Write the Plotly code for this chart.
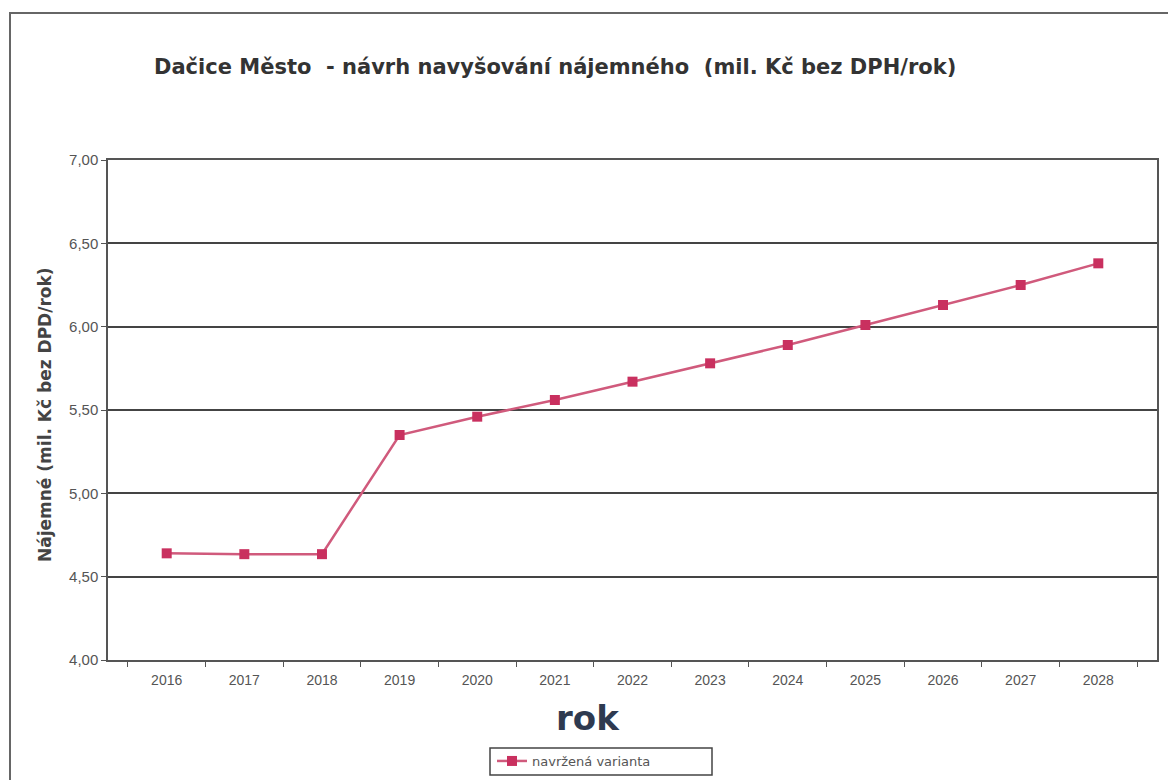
import plotly.graph_objects as go

years = ["2016", "2017", "2018", "2019", "2020", "2021", "2022", "2023", "2024", "2025", "2026", "2027", "2028"]
rent = [4.64, 4.635, 4.635, 5.35, 5.46, 5.56, 5.67, 5.78, 5.89, 6.01, 6.13, 6.25, 6.38]
series_name = "navržená varianta"
title_text = "Dačice Město  - návrh navyšování nájemného  (mil. Kč bez DPH/rok)"
y_title = "Nájemné (mil. Kč bez DPD/rok)"
x_title = "rok"

L, R, T, B = 108, 1157, 160, 660
W, H = 1168, 780
PW, PH = R - L, B - T


def px(x):
    return (x - L) / PW


def py(y):
    return (B - y) / PH


fig = go.Figure()
fig.add_trace(go.Scatter(
    x=years, y=rent, mode="lines+markers", name=series_name,
    line=dict(color="#d05a7c", width=2.5),
    marker=dict(symbol="square", size=10, color="#c9305f"),
))

fig.update_layout(
    width=W, height=H,
    margin=dict(l=L, r=W - R, t=T, b=H - B, autoexpand=False),
    paper_bgcolor="white", plot_bgcolor="white",
    separators=", ",
    showlegend=True,
    legend=dict(orientation="h", xref="container", yref="container",
                x=492 / W, y=1 - 761 / H, xanchor="left", yanchor="middle",
                borderwidth=0, bgcolor="rgba(0,0,0,0)", itemwidth=30,
                font=dict(family="DejaVu Sans", size=13, color="#555")),
    font=dict(family="Liberation Sans, Arial", color="#444"),
)
fig.update_xaxes(
    type="category", tickson="boundaries", ticks="outside", ticklen=5, tickcolor="#555",
    showline=True, linecolor="#555", linewidth=1.5, mirror=True, showgrid=False,
    ticklabelstandoff=6,
    tickfont=dict(family="Liberation Sans, Arial", size=14, color="#555"),
)
fig.update_yaxes(
    range=[4, 7], dtick=0.5, tickformat=".2f", ticks="outside", ticklen=5, tickcolor="#555",
    showline=True, linecolor="#555", linewidth=1.5, mirror=True,
    showgrid=True, gridcolor="#444", gridwidth=1.5, zeroline=False,
    tickfont=dict(family="Liberation Sans, Arial", size=15, color="#555"),
)

fig.add_annotation(text="<b>" + title_text + "</b>", xref="paper", yref="paper",
                   x=px(555), y=py(67), xanchor="center", yanchor="middle", showarrow=False,
                   font=dict(family="DejaVu Sans", size=21, color="#333"))
fig.add_annotation(text="<b>" + y_title + "</b>", xref="paper", yref="paper",
                   x=px(45), y=py(415), xanchor="center", yanchor="middle",
                   showarrow=False, textangle=-90,
                   font=dict(family="DejaVu Sans", size=17, color="#444"))
fig.add_annotation(text="<b>" + x_title + "</b>", xref="paper", yref="paper",
                   x=px(588), y=py(718), xanchor="center", yanchor="middle", showarrow=False,
                   font=dict(family="DejaVu Sans", size=34, color="#2e3a50"))

# legend frame
fig.add_shape(type="rect", xref="paper", yref="paper",
              x0=px(490), x1=px(712), y0=py(775), y1=py(748),
              line=dict(color="#444", width=1.5), fillcolor="rgba(0,0,0,0)")

# outer chart frame
fig.add_shape(type="rect", xref="paper", yref="paper",
              x0=px(10), x1=px(1180), y0=py(800), y1=py(13),
              line=dict(color="#666", width=2), fillcolor="rgba(0,0,0,0)", layer="below")

fig.write_html("out.html", config={"displayModeBar": False},
               post_script="document.body.style.margin='0';document.body.style.overflow='hidden';")
